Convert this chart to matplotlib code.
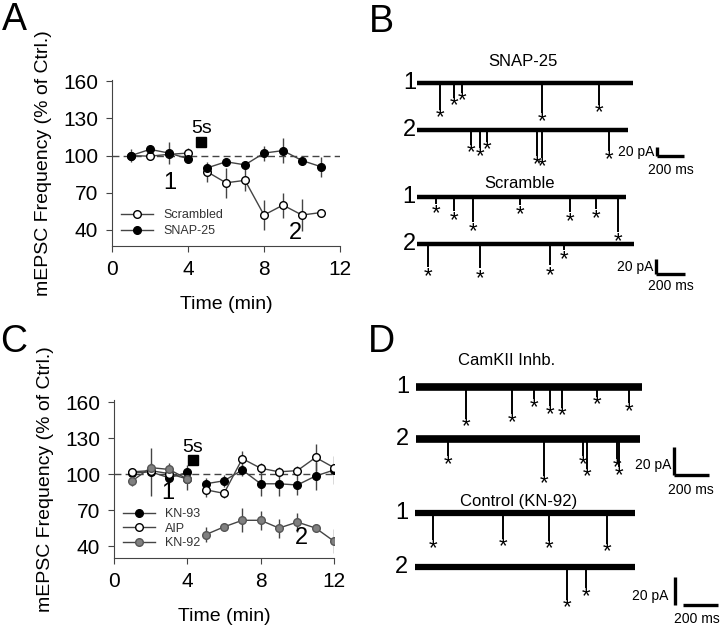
import numpy as np
import matplotlib
matplotlib.use("Agg")
import matplotlib.pyplot as plt
from matplotlib.lines import Line2D

plt.rcParams['font.family'] = ['Liberation Sans', 'DejaVu Sans']

# ---- panel A data (% of control) ----
time_a = [1, 2, 3, 4, 5, 6, 7, 8, 9, 10, 11]
scrambled = [100, 99.5, 101, 102, 87, 78, 80, 52, 60, 52, 54]
scrambled_err = [3, 3, 3, 4, 8, 12, 9, 12, 10, 13, 3]
snap25 = [100, 105, 102, 97.5, 90, 95, 92.5, 102, 104, 96, 91]
snap25_err = [5, 2, 9, 2, 2, 3, 3, 6, 10, 4, 8]

# ---- panel C data ----
time_c = [1, 2, 3, 4, 5, 6, 7, 8, 9, 10, 11, 12]
kn93 = [101, 102, 97, 101.5, 92, 94.5, 103.5, 92, 92, 91, 98.5, 103.5]
kn93_err = [3, 20, 5, 6, 5, 5, 5, 10, 10, 8, 12, 12]
aip = [102, 103, 100.5, 96, 87, 84, 113, 105, 102, 103, 114, 105.5]
aip_err = [3, 3, 3, 3, 6, 4, 6, 4, 4, 4, 11, 4]
kn92 = [94.5, 105.5, 104, 96, 49.5, 56, 61.5, 61.5, 55, 60, 55, 44]
kn92_err = [4, 4, 5, 9, 6, 3, 10, 8, 8, 8, 3, 10]

# ---- example traces: event times (ms) and amplitudes (pA) ----
snap_len = [1642, 1604]
snap_t1 = [177, 281, 342, 952, 1383]
snap_a1 = [59, 33, 22, 67, 48]
snap_t2 = [408, 481, 535, 909, 952, 1459]
snap_a2 = [33, 41, 26, 59, 63, 48]

scr_len = [1478, 1530]
scr_t1 = [132, 261, 395, 725, 1078, 1266, 1419]
scr_a1 = [9, 18, 33, 10, 20, 16, 47]
scr_t2 = [78, 442, 941, 1035]
scr_a2 = [31, 33, 29, 9]

cam_len = [1288, 1279]
cam_t1 = [286, 548, 676, 765, 836, 1035, 1218]
cam_a1 = [23, 20, 9, 14, 15, 7, 12]
cam_t2 = [181, 733, 952, 974, 1146, 1161]
cam_a2 = [13, 27, 13, 22, 15, 21]

kn_len = [1256, 1256]
kn_t1 = [101, 502, 767, 1094]
kn_a1 = [19.5, 18.5, 20, 22]
kn_t2 = [866, 974]
kn_a2 = [23.5, 15]

W, H = 720, 627
fig = plt.figure(figsize=(W / 100, H / 100), dpi=100)
LINE = '#444444'


def px_axes(left, top, right, bottom):
    return fig.add_axes([left / W, 1 - bottom / H, (right - left) / W, (bottom - top) / H])


def series(ax, x, y, err, face, edge):
    x = np.array(x); y = np.array(y)
    ax.errorbar(x, y, yerr=err, fmt='none', ecolor=LINE, elinewidth=1, capsize=0, zorder=2)
    for m in (x <= 4, x >= 5):
        ax.plot(x[m], y[m], color=LINE, lw=1, zorder=3)
    ax.plot(x, y, 'o', ls='none', mfc=face, mec=edge, ms=5.5, mew=1, zorder=4)
    return Line2D([], [], color=LINE, lw=1, marker='o', mfc=face, mec=edge, ms=5.5, mew=1)


def style_time_axes(ax, ylim):
    ax.set_xlim(0, 12)
    ax.set_ylim(*ylim)
    ax.set_xticks([0, 4, 8, 12])
    ax.set_yticks([40, 70, 100, 130, 160])
    for s in ('top', 'right'):
        ax.spines[s].set_visible(False)
    for s in ('left', 'bottom'):
        ax.spines[s].set_color(LINE)
    ax.tick_params(labelsize=15, length=4, color=LINE, pad=6)
    ax.axhline(100, color=LINE, ls=(0, (5, 3)), lw=1, zorder=1)
    ax.set_xlabel('Time (min)', fontsize=14, labelpad=12)
    ax.set_ylabel('mEPSC Frequency (% of Ctrl.)', fontsize=14, labelpad=8)


# ---- panel A ----
axA = px_axes(112, 80, 340, 246)
style_time_axes(axA, (27, 161))
hA = [series(axA, time_a, scrambled, scrambled_err, 'white', 'black'),
      series(axA, time_a, snap25, snap25_err, 'black', 'black')]
axA.legend(hA, ['Scrambled', 'SNAP-25'], loc='lower left', bbox_to_anchor=(0.0, 0.0),
           frameon=False, fontsize=9, handlelength=2.6, labelspacing=0.35,
           labelcolor='#333333', borderaxespad=0.3)
axA.text(4.74, 122, '5s', ha='center', va='center', fontsize=14)
axA.plot([4.66], [111], 's', color='black', ms=7)
axA.text(3.05, 78, '1', ha='center', va='center', fontsize=17)
axA.text(9.63, 37.6, '2', ha='center', va='center', fontsize=17)

# ---- panel C ----
axC = px_axes(114, 400, 334, 558)
style_time_axes(axC, (30, 162))
hC = [series(axC, time_c, kn93, kn93_err, 'black', 'black'),
      series(axC, time_c, aip, aip_err, 'white', 'black'),
      series(axC, time_c, kn92, kn92_err, '#808080', '#555555')]
axC.legend(hC, ['KN-93', 'AIP', 'KN-92'], loc='lower left', bbox_to_anchor=(0.0, 0.0),
           frameon=False, fontsize=9, handlelength=2.6, labelspacing=0.2,
           labelcolor='#333333', borderaxespad=0.3)
axC.text(4.31, 122, '5s', ha='center', va='center', fontsize=14)
axC.plot([4.31], [111.5], 's', color='black', ms=7)
axC.text(2.95, 84, '1', ha='center', va='center', fontsize=17)
axC.text(10.25, 47, '2', ha='center', va='center', fontsize=17)


# ---- trace panels ----
def trace_group(x0, y0, mpp, ppp):
    left, top = x0 - 45, y0 - 45
    ax = px_axes(left, top, W, top + 170)
    ax.set_xlim(-45 * mpp, (W - x0) * mpp)
    ax.set_ylim(-125 * ppp, 45 * ppp)
    ax.axis('off')
    return ax


def draw_trace(ax, offset, length, times, amps, lw, gap, label, label_x):
    amps = np.array(amps)
    ax.plot([0, length], [offset, offset], color='black', lw=lw, solid_capstyle='butt')
    ax.vlines(times, offset - amps, offset, color='black', lw=1.4)
    for t, a in zip(times, amps):
        ax.text(t, offset - a - gap, '*', ha='center', va='center', fontsize=16)
    ax.text(label_x, offset, label, ha='center', va='center', fontsize=17, clip_on=False)


def scale_bar(ax, x, hx, y_top, y_bot, ms, pa_text_x, pa_y, ms_x, ms_y):
    ax.plot([x, x], [y_top, y_bot], color='black', lw=2.4, solid_capstyle='butt')
    ax.plot([hx, hx + ms], [y_bot, y_bot], color='black', lw=2.4, solid_capstyle='butt')
    ax.text(pa_text_x, pa_y, '20 pA', ha='right', va='center', fontsize=10)
    ax.text(ms_x, ms_y, '200 ms', ha='center', va='center', fontsize=10, clip_on=False)


# B: SNAP-25
axB1 = trace_group(417, 83, 7.6, 2.22)
axB1.text(806, 48, 'SNAP-25', ha='center', va='center', fontsize=12)
draw_trace(axB1, 0, snap_len[0], snap_t1, snap_a1, 3.2, 18, '1', -56)
draw_trace(axB1, -104, snap_len[1], snap_t2, snap_a2, 3.2, 18, '2', -56)
scale_bar(axB1, 1827, 1827, -143, -163, 200, 1807, -153, 1927, -193)

# B: Scramble
axB2 = trace_group(417, 197, 7.06, 1.33)
axB2.text(725, 18, 'Scramble', ha='center', va='center', fontsize=12)
draw_trace(axB2, 0, scr_len[0], scr_t1, scr_a1, 3.2, 13, '1', -56)
draw_trace(axB2, -62, scr_len[1], scr_t2, scr_a2, 3.2, 13, '2', -56)
scale_bar(axB2, 1690, 1690, -82, -102, 200, 1670, -93, 1790, -119)

# D: CamKII inhibitor
axD1 = trace_group(416, 387, 5.71, 0.73)
axD1.text(518, 19, 'CamKII Inhb.', ha='center', va='center', fontsize=12)
draw_trace(axD1, 0, cam_len[0], cam_t1, cam_a1, 5.5, 6, '1', -76)
draw_trace(axD1, -37.7, cam_len[1], cam_t2, cam_a2, 5.5, 6, '2', -76)
scale_bar(axD1, 1475, 1475, -44, -64, 200, 1458, -57, 1570, -75)

# D: control KN-92
axD2 = trace_group(415, 513, 5.71, 0.72)
axD2.text(594, 8, 'Control (KN-92)', ha='center', va='center', fontsize=12)
draw_trace(axD2, 0, kn_len[0], kn_t1, kn_a1, 4.5, 6, '1', -76)
draw_trace(axD2, -39, kn_len[1], kn_t2, kn_a2, 4.5, 6, '2', -76)
scale_bar(axD2, 1485, 1532, -46, -66.5, 200, 1446, -60, 1612, -76)

# panel letters
for letter, x, y in (('A', 14, 20), ('B', 381, 22), ('C', 14, 342), ('D', 381, 342)):
    fig.text(x / W, 1 - y / H, letter, ha='center', va='center', fontsize=27)

fig.savefig('out.png', dpi=100)
